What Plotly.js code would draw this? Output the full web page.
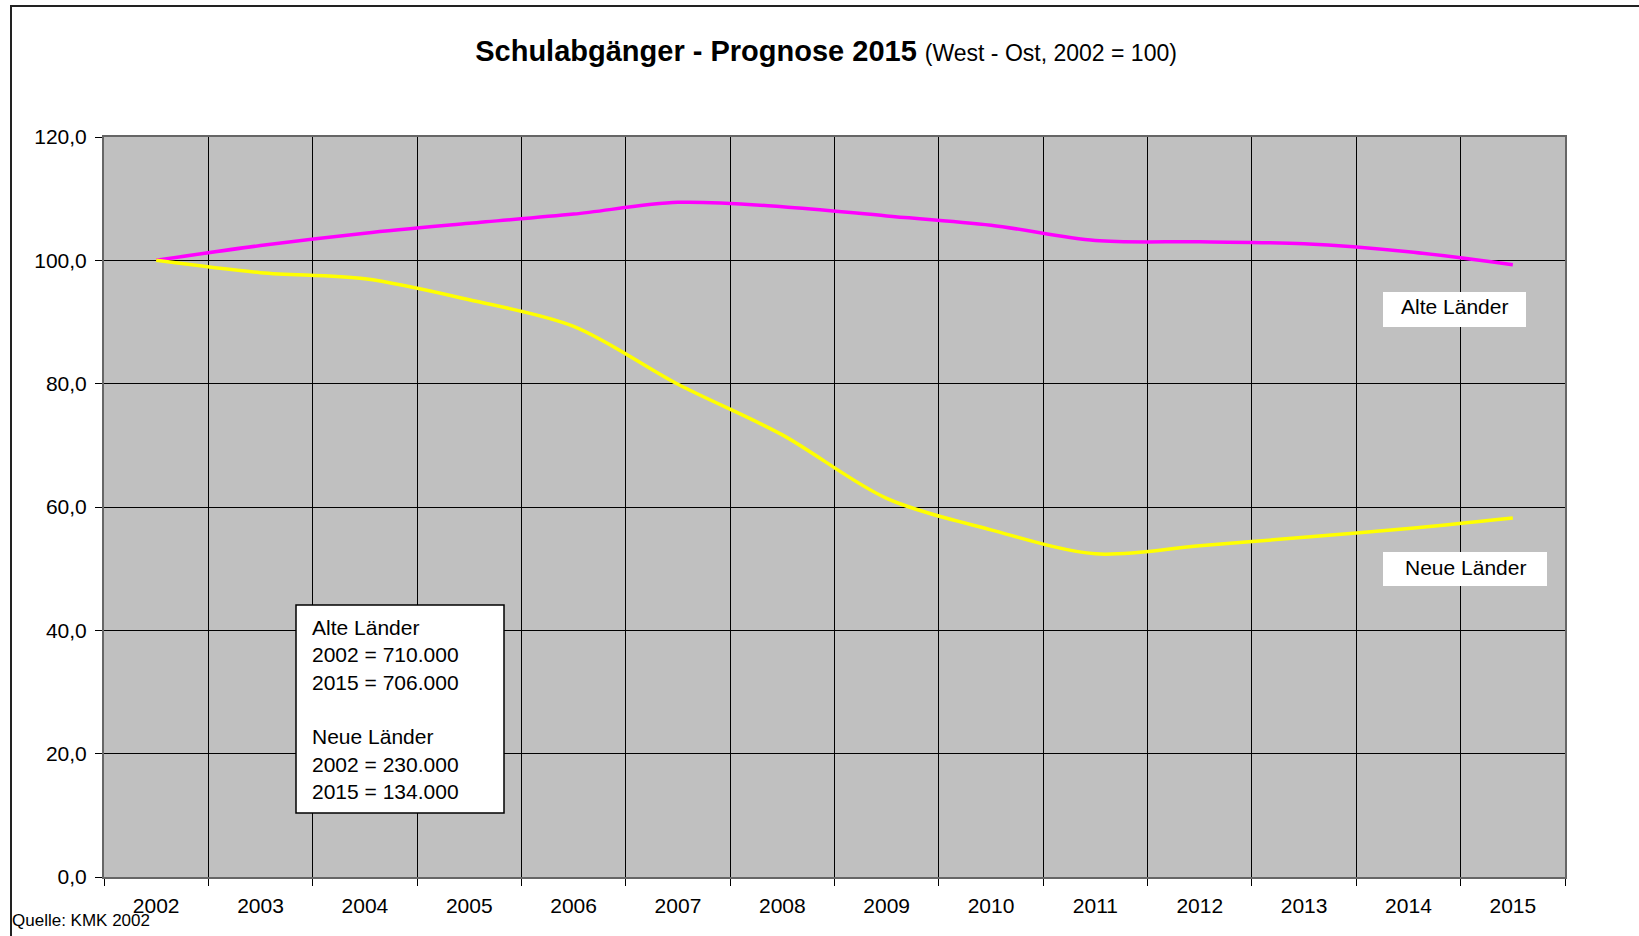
<!DOCTYPE html>
<html>
<head>
<meta charset="utf-8">
<script src="https://cdn.plot.ly/plotly-3.0.1.min.js"></script>
<style>
  html, body { margin: 0; padding: 0; background: #ffffff; }
  #chart { width: 1639px; height: 936px; }
</style>
</head>
<body>
<div id="chart"></div>
<script>
var years = ['2002','2003','2004','2005','2006','2007','2008','2009','2010','2011','2012','2013','2014','2015'];
var alteLaender = [100, 102.4, 104.4, 106.0, 107.5, 109.4, 108.7, 107.2, 105.7, 103.2, 103.0, 102.7, 101.4, 99.3];
var neueLaender = [100, 98.0, 97.0, 93.6, 89.3, 79.9, 71.7, 61.4, 56.3, 52.4, 53.7, 55.1, 56.5, 58.2];
var yTicks = [0, 20, 40, 60, 80, 100, 120];
var infoText = 'Alte Länder<br>2002 = 710.000<br>2015 = 706.000<br> <br>Neue Länder<br>2002 = 230.000<br>2015 = 134.000';

var FONT = '"Liberation Sans", Arial, Helvetica, sans-serif';

var traces = [
  { x: years, y: alteLaender, type: 'scatter', mode: 'lines', name: 'Alte Länder',
    line: { color: '#FF00FF', width: 3.5, shape: 'spline', smoothing: 0.9 }, hoverinfo: 'skip' },
  { x: years, y: neueLaender, type: 'scatter', mode: 'lines', name: 'Neue Länder',
    line: { color: '#FFFF00', width: 3.5, shape: 'spline', smoothing: 0.9 }, hoverinfo: 'skip' }
];

// pixel helpers for paper coords (plot area 104..1565 x 137..877)
function px(x) { return (x - 104) / 1461; }
function py(y) { return (877 - y) / 740; }

var layout = {
  width: 1639, height: 936,
  margin: { l: 104, r: 74, t: 137, b: 59, pad: 0 },
  paper_bgcolor: '#ffffff',
  plot_bgcolor: '#C0C0C0',
  separators: ',.',
  showlegend: false,
  font: { family: FONT, color: '#000000', size: 21 },
  title: {
    text: '<b>Schulabgänger - Prognose 2015</b> <span style="font-size:23px">(West - Ost, 2002 = 100)</span>',
    font: { family: FONT, size: 29, color: '#000000' },
    xref: 'container', x: 0.504, xanchor: 'center',
    yref: 'container', y: 1 - 51 / 936, yanchor: 'middle'
  },
  xaxis: {
    type: 'category',
    range: [-0.5, 13.5],
    tickson: 'boundaries',
    ticks: 'outside', ticklen: 7, tickwidth: 1, tickcolor: '#000000',
    showgrid: true, gridcolor: '#000000', gridwidth: 1,
    showline: true, linecolor: '#666666', linewidth: 2, mirror: true,
    tickfont: { family: FONT, size: 21, color: '#000000' },
    ticklabelstandoff: 9,
    fixedrange: true
  },
  yaxis: {
    range: [0, 120],
    tickvals: yTicks,
    tickformat: '.1f',
    ticks: 'outside', ticklen: 7, tickwidth: 1, tickcolor: '#000000',
    showgrid: true, gridcolor: '#000000', gridwidth: 1,
    zeroline: false,
    showline: true, linecolor: '#666666', linewidth: 2, mirror: true,
    tickfont: { family: FONT, size: 21, color: '#000000' },
    ticklabelstandoff: 4,
    fixedrange: true
  },
  shapes: [
    // outer chart frame (left and top)
    { type: 'line', xref: 'paper', yref: 'paper', x0: px(11), x1: px(11), y0: py(5), y1: py(945),
      line: { color: '#222222', width: 2 } },
    { type: 'line', xref: 'paper', yref: 'paper', x0: px(10), x1: px(1650), y0: py(6), y1: py(6),
      line: { color: '#222222', width: 2 } },
    // info box
    { type: 'rect', xref: 'paper', yref: 'paper', layer: 'above',
      x0: px(296), x1: px(504), y0: py(813), y1: py(605),
      fillcolor: '#ffffff', line: { color: '#000000', width: 1.5 } },
    // label boxes
    { type: 'rect', xref: 'paper', yref: 'paper', layer: 'above',
      x0: px(1383), x1: px(1526), y0: py(327), y1: py(292),
      fillcolor: '#ffffff', line: { width: 0 } },
    { type: 'rect', xref: 'paper', yref: 'paper', layer: 'above',
      x0: px(1383), x1: px(1547), y0: py(586), y1: py(552),
      fillcolor: '#ffffff', line: { width: 0 } }
  ],
  annotations: [
    { text: infoText, xref: 'paper', yref: 'paper', x: px(310), y: py(614), xanchor: 'left', yanchor: 'top',
      align: 'left', showarrow: false, font: { family: FONT, size: 21, color: '#000000' } },
    { text: 'Alte Länder', xref: 'paper', yref: 'paper', x: px(1454.5), y: py(306.5),
      xanchor: 'center', yanchor: 'middle', showarrow: false,
      font: { family: FONT, size: 21, color: '#000000' } },
    { text: 'Neue Länder', xref: 'paper', yref: 'paper', x: px(1465), y: py(567),
      xanchor: 'center', yanchor: 'middle', showarrow: false,
      font: { family: FONT, size: 21, color: '#000000' } },
    { text: 'Quelle: KMK 2002', xref: 'paper', yref: 'paper', x: px(10), y: py(920),
      xanchor: 'left', yanchor: 'middle', showarrow: false,
      font: { family: FONT, size: 17, color: '#000000' } }
  ]
};

Plotly.newPlot('chart', traces, layout, { displayModeBar: false, staticPlot: true });
</script>
</body>
</html>
